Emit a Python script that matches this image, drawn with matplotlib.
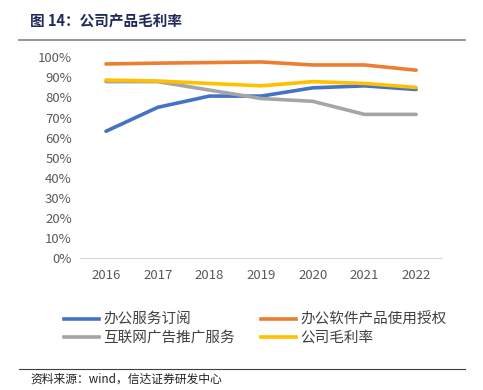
import matplotlib.pyplot as plt
from matplotlib.lines import Line2D

plt.rcParams['font.family'] = ['Noto Sans CJK SC', 'DejaVu Sans']

years = ["2016", "2017", "2018", "2019", "2020", "2021", "2022"]
office_sub = [63.2, 75.1, 80.7, 80.7, 84.8, 85.8, 84.0]
office_license = [96.7, 97.1, 97.4, 97.7, 96.2, 96.2, 93.6]
ads = [87.9, 87.9, 83.7, 79.5, 78.1, 71.6, 71.6]
gross = [88.7, 88.2, 87.0, 85.8, 87.9, 87.0, 85.0]

names = ["办公服务订阅", "办公软件产品使用授权", "互联网广告推广服务", "公司毛利率"]
colors = ["#4472C4", "#ED7D31", "#A5A5A5", "#FFC000"]
series = [office_sub, office_license, ads, gross]

fig = plt.figure(figsize=(4.83, 3.9), dpi=100)
ax = fig.add_axes([0.166, 0.338, 0.749, 0.515])

x = list(range(len(years)))
for vals, c in zip(series, colors):
    ax.plot(x, vals, color=c, lw=2.6, solid_capstyle="round")

ax.set_xlim(-0.5, len(years) - 0.5)
ax.set_ylim(0, 100)
ax.set_yticks(range(0, 101, 10))
ax.set_yticklabels([f"{v}%" for v in range(0, 101, 10)])
ax.set_xticks(x)
ax.set_xticklabels(years)
ax.tick_params(axis="both", length=0, colors="#595959", labelsize=9.5)
ax.tick_params(axis="x", pad=8)
ax.tick_params(axis="y", pad=6)
for s in ["top", "right", "left"]:
    ax.spines[s].set_visible(False)
ax.spines["bottom"].set_color("#D9D9D9")

# legend fills column by column, so reorder to get row layout
order = [0, 2, 1, 3]
handles = [Line2D([], [], color=colors[i], lw=2.6) for i in order]
labels = [names[i] for i in order]
fig.legend(handles, labels, loc="upper left", bbox_to_anchor=(0.132, 0.199), ncol=2,
           frameon=False, fontsize=10.5, handlelength=2.4, handletextpad=0.3,
           columnspacing=1.8, labelspacing=0.3, borderpad=0, borderaxespad=0,
           labelcolor="#404040")

fig.text(0.062, 0.945, "图 14：公司产品毛利率", fontsize=10.5, fontweight="bold",
         color="#1F2A5A", va="center")
fig.add_artist(Line2D([0.04, 0.963], [0.897, 0.897], color="#808080", lw=1.2))
fig.add_artist(Line2D([0.04, 0.963], [0.054, 0.054], color="#404040", lw=0.8))
fig.text(0.064, 0.027, "资料来源：wind，信达证券研发中心", fontsize=8.5, style="italic",
         color="#222222", va="center")

fig.savefig("out.png", dpi=100)
